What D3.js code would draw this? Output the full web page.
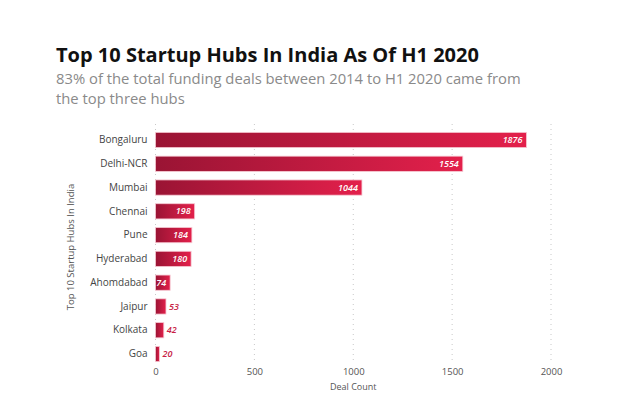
<!DOCTYPE html>
<html><head><meta charset="utf-8">
<script src="https://cdn.jsdelivr.net/npm/d3@7"></script>
<style>
body{margin:0;background:#fff;}
svg{display:block;font-family:"Open Sans",sans-serif;}
</style></head>
<body><svg id="c" width="640" height="400"></svg>
<script>
const categories=["Bongaluru","Delhi-NCR","Mumbai","Chennai","Pune","Hyderabad","Ahomdabad","Jaipur","Kolkata","Goa"];
const values=[1876,1554,1044,198,184,180,74,53,42,20];
const xTicks=[0,500,1000,1500,2000];

const svg=d3.select("#c");
const m={left:155.5,right:551,top:130,bottom:364};
const x=d3.scaleLinear().domain([0,2000]).range([m.left,m.right]);
const y=d3.scaleBand().domain(categories).range([m.top,m.bottom]).paddingInner(0.36).paddingOuter(0.1);

const defs=svg.append("defs");
const g=defs.append("linearGradient").attr("id","grad").attr("x1","0").attr("x2","1").attr("y1","0").attr("y2","0");
g.append("stop").attr("offset","0%").attr("stop-color","#9a1434");
g.append("stop").attr("offset","100%").attr("stop-color","#e3204b");

svg.append("text").attr("x",56).attr("y",62).attr("font-size",20).attr("font-weight",700).attr("fill","#111").text("Top 10 Startup Hubs In India As Of H1 2020");
svg.append("text").attr("x",56).attr("y",84).attr("font-size",14.8).attr("fill","#8a8a8a").text("83% of the total funding deals between 2014 to H1 2020 came from");
svg.append("text").attr("x",56).attr("y",104).attr("font-size",14.8).attr("fill","#8a8a8a").text("the top three hubs");

// grid
svg.append("g").selectAll("line").data(xTicks).join("line")
 .attr("x1",d=>x(d)).attr("x2",d=>x(d)).attr("y1",124).attr("y2",360)
 .attr("stroke","#c8c8c8").attr("stroke-dasharray","1,4").attr("stroke-width",1);

// x axis
const xa=svg.append("g").attr("transform","translate(0,360)").call(d3.axisBottom(x).tickValues(xTicks).tickFormat(d3.format("d")).tickSize(0).tickPadding(8));
xa.select(".domain").remove();
xa.selectAll("text").attr("font-size",9.5).attr("fill","#555").attr("font-family","Open Sans");

// y axis
const ya=svg.append("g").attr("transform",`translate(${m.left-8},0)`).call(d3.axisLeft(y).tickSize(0).tickPadding(0));
ya.select(".domain").remove();
ya.selectAll("text").attr("font-size",10).attr("fill","#444").attr("font-family","Open Sans");

svg.append("g").selectAll("rect").data(categories).join("rect")
 .attr("x",x(0)).attr("y",d=>y(d)).attr("height",y.bandwidth())
 .attr("width",(d,i)=>x(values[i])-x(0)).attr("fill","url(#grad)")
 .attr("stroke","#f6c9d3").attr("stroke-width",0.8);

svg.append("g").selectAll("text").data(categories).join("text")
 .attr("y",d=>y(d)+y.bandwidth()/2).attr("dy","0.35em")
 .attr("font-size",9).attr("font-style","italic").attr("font-weight",600)
 .each(function(d,i){
   const v=values[i];
   const t=d3.select(this);
   if(v>=70){t.attr("x",x(v)-4).attr("text-anchor","end").attr("fill","#fff");}
   else{t.attr("x",x(v)+3).attr("text-anchor","start").attr("fill","#c81e45");}
 }).text((d,i)=>values[i]);

svg.append("text").attr("x",x(1000)).attr("y",390).attr("text-anchor","middle").attr("font-size",9).attr("fill","#555").text("Deal Count");
svg.append("text").attr("transform",`translate(74,${(m.top+m.bottom)/2}) rotate(-90)`).attr("text-anchor","middle").attr("font-size",9.5).attr("fill","#555").text("Top 10 Startup Hubs In India");
</script></body></html>
